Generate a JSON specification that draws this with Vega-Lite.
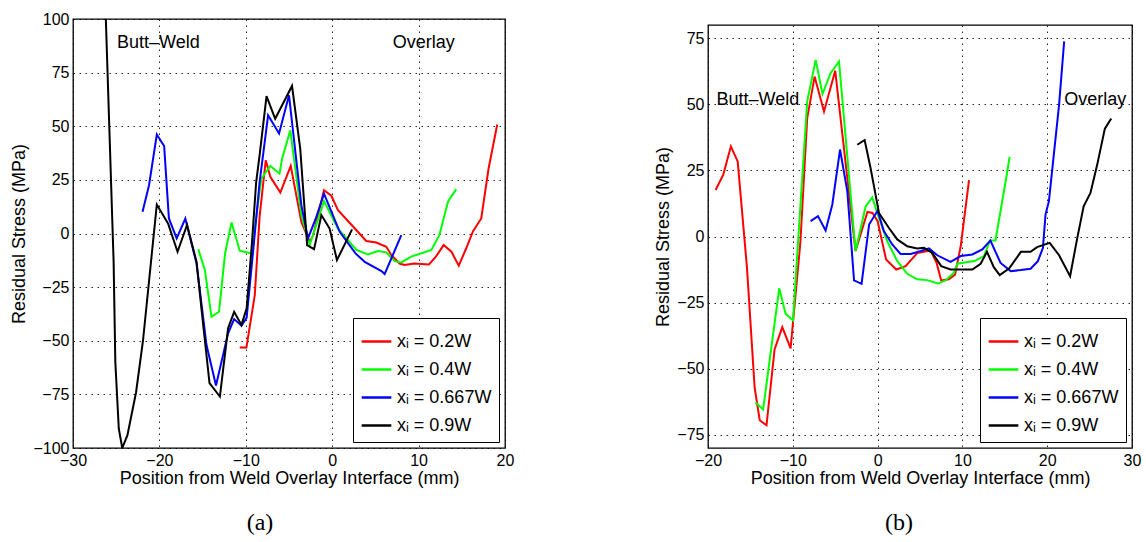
{
"$schema": "https://vega.github.io/schema/vega-lite/v6.json",
"background": "white",
"padding": {"left": 10, "top": 10, "right": 5, "bottom": 5},
"datasets": {
"a": [
{"s":"0.2W","x":-10.7,"y":-53.2},{"s":"0.2W","x":-9.93,"y":-53.2},{"s":"0.2W","x":-8.96,"y":-28.7},{"s":"0.2W","x":-8.4,"y":8},{"s":"0.2W","x":-7.69,"y":34.2},{"s":"0.2W","x":-7.16,"y":26.4},{"s":"0.2W","x":-6.0,"y":19.1},{"s":"0.2W","x":-4.8,"y":31.5},{"s":"0.2W","x":-3.57,"y":5.4},{"s":"0.2W","x":-2.6,"y":-3.9},{"s":"0.2W","x":-2.2,"y":-0.8},{"s":"0.2W","x":-0.95,"y":20.2},{"s":"0.2W","x":-0.1,"y":17.6},{"s":"0.2W","x":0.67,"y":10.9},{"s":"0.2W","x":2.2,"y":4.2},{"s":"0.2W","x":3.94,"y":-3.5},{"s":"0.2W","x":5.1,"y":-4.2},{"s":"0.2W","x":6.26,"y":-6.2},{"s":"0.2W","x":6.84,"y":-10},{"s":"0.2W","x":7.8,"y":-14},{"s":"0.2W","x":8.38,"y":-14.7},{"s":"0.2W","x":9.5,"y":-14},{"s":"0.2W","x":11.2,"y":-14.4},{"s":"0.2W","x":12.0,"y":-10.8},{"s":"0.2W","x":12.9,"y":-5.4},{"s":"0.2W","x":13.8,"y":-8.5},{"s":"0.2W","x":14.65,"y":-15},{"s":"0.2W","x":15.5,"y":-7},{"s":"0.2W","x":16.3,"y":1.1},{"s":"0.2W","x":17.25,"y":7},{"s":"0.2W","x":18.1,"y":30.3},{"s":"0.2W","x":19.1,"y":50.8},
{"s":"0.4W","x":-15.5,"y":-7.3},{"s":"0.4W","x":-14.74,"y":-17},{"s":"0.4W","x":-13.97,"y":-38.8},{"s":"0.4W","x":-13.1,"y":-36.5},{"s":"0.4W","x":-12.4,"y":-9.3},{"s":"0.4W","x":-11.65,"y":5.1},{"s":"0.4W","x":-10.7,"y":-8},{"s":"0.4W","x":-9.35,"y":-9.3},{"s":"0.4W","x":-8.2,"y":25.6},{"s":"0.4W","x":-7.16,"y":31.5},{"s":"0.4W","x":-6.1,"y":27.9},{"s":"0.4W","x":-5.8,"y":34.9},{"s":"0.4W","x":-4.85,"y":48.1},{"s":"0.4W","x":-3.57,"y":8.6},{"s":"0.4W","x":-2.6,"y":-5.4},{"s":"0.4W","x":-0.95,"y":15.1},{"s":"0.4W","x":0.67,"y":2.3},{"s":"0.4W","x":2.8,"y":-7.7},{"s":"0.4W","x":4.14,"y":-9.8},{"s":"0.4W","x":5.3,"y":-8.2},{"s":"0.4W","x":6.26,"y":-8.8},{"s":"0.4W","x":7.23,"y":-12.9},{"s":"0.4W","x":8.0,"y":-13.5},{"s":"0.4W","x":9.15,"y":-10.8},{"s":"0.4W","x":11.47,"y":-7.7},{"s":"0.4W","x":12.4,"y":-0.8},{"s":"0.4W","x":13.4,"y":14.8},{"s":"0.4W","x":14.35,"y":20.7},
{"s":"0.667W","x":-21.95,"y":10.1},{"s":"0.667W","x":-21.2,"y":22.5},{"s":"0.667W","x":-20.3,"y":46.1},{"s":"0.667W","x":-19.45,"y":40.8},{"s":"0.667W","x":-18.9,"y":7},{"s":"0.667W","x":-18.0,"y":-2.3},{"s":"0.667W","x":-17.0,"y":7},{"s":"0.667W","x":-15.7,"y":-14},{"s":"0.667W","x":-14.55,"y":-52},{"s":"0.667W","x":-13.45,"y":-70.9},{"s":"0.667W","x":-12.05,"y":-46.5},{"s":"0.667W","x":-11.35,"y":-39.9},{"s":"0.667W","x":-10.5,"y":-43},{"s":"0.667W","x":-9.9,"y":-39.2},{"s":"0.667W","x":-9.1,"y":-6},{"s":"0.667W","x":-8.4,"y":24},{"s":"0.667W","x":-7.42,"y":55.1},{"s":"0.667W","x":-6.15,"y":46.6},{"s":"0.667W","x":-5.0,"y":64.4},{"s":"0.667W","x":-3.57,"y":13.2},{"s":"0.667W","x":-2.8,"y":-2.3},{"s":"0.667W","x":-1.9,"y":7},{"s":"0.667W","x":-0.95,"y":18.6},{"s":"0.667W","x":0.87,"y":0.8},{"s":"0.667W","x":2.7,"y":-9.3},{"s":"0.667W","x":3.76,"y":-13.2},{"s":"0.667W","x":5.7,"y":-17.5},{"s":"0.667W","x":6.07,"y":-18.9},{"s":"0.667W","x":8.0,"y":-0.8},
{"s":"0.9W","x":-26.2,"y":100},{"s":"0.9W","x":-25.3,"y":-13},{"s":"0.9W","x":-25.1,"y":-60},{"s":"0.9W","x":-24.7,"y":-91},{"s":"0.9W","x":-24.3,"y":-100},{"s":"0.9W","x":-23.7,"y":-94},{"s":"0.9W","x":-22.7,"y":-74},{"s":"0.9W","x":-21.9,"y":-50},{"s":"0.9W","x":-20.3,"y":13.5},{"s":"0.9W","x":-19,"y":4.7},{"s":"0.9W","x":-17.9,"y":-8.5},{"s":"0.9W","x":-16.8,"y":4},{"s":"0.9W","x":-15.7,"y":-13.2},{"s":"0.9W","x":-15,"y":-40},{"s":"0.9W","x":-14.2,"y":-69.8},{"s":"0.9W","x":-13,"y":-76},{"s":"0.9W","x":-12.05,"y":-44.2},{"s":"0.9W","x":-11.35,"y":-36.5},{"s":"0.9W","x":-10.5,"y":-42.6},{"s":"0.9W","x":-9.9,"y":-34.9},{"s":"0.9W","x":-9.3,"y":-5},{"s":"0.9W","x":-8.8,"y":24},{"s":"0.9W","x":-8.4,"y":36.5},{"s":"0.9W","x":-7.6,"y":64},{"s":"0.9W","x":-6.6,"y":53.5},{"s":"0.9W","x":-4.65,"y":68.8},{"s":"0.9W","x":-3.7,"y":39.6},{"s":"0.9W","x":-2.9,"y":-5.4},{"s":"0.9W","x":-2.1,"y":-7.3},{"s":"0.9W","x":-1.25,"y":8.6},{"s":"0.9W","x":-0.3,"y":2.3},{"s":"0.9W","x":0.55,"y":-12.4},{"s":"0.9W","x":2.3,"y":1.9}
],
"b": [
{"s":"0.2W","x":-19.1,"y":17.6},{"s":"0.2W","x":-18.2,"y":23.4},{"s":"0.2W","x":-17.3,"y":34.1},{"s":"0.2W","x":-16.5,"y":28.4},{"s":"0.2W","x":-15.4,"y":-11.9},{"s":"0.2W","x":-14.5,"y":-57.2},{"s":"0.2W","x":-13.9,"y":-69.5},{"s":"0.2W","x":-13.1,"y":-71.4},{"s":"0.2W","x":-12.15,"y":-42.7},{"s":"0.2W","x":-11.24,"y":-34.3},{"s":"0.2W","x":-10.26,"y":-42.3},{"s":"0.2W","x":-9.1,"y":-2},{"s":"0.2W","x":-8.3,"y":44.8},{"s":"0.2W","x":-7.43,"y":60.5},{"s":"0.2W","x":-6.32,"y":47.3},{"s":"0.2W","x":-5.0,"y":62.7},{"s":"0.2W","x":-2.6,"y":-5.5},{"s":"0.2W","x":-1.2,"y":9.3},{"s":"0.2W","x":-0.6,"y":8.9},{"s":"0.2W","x":0,"y":5.8},{"s":"0.2W","x":1.0,"y":-8.7},{"s":"0.2W","x":2.2,"y":-12.5},{"s":"0.2W","x":3.3,"y":-11.2},{"s":"0.2W","x":4.7,"y":-6.2},{"s":"0.2W","x":6.25,"y":-5.3},{"s":"0.2W","x":6.96,"y":-10},{"s":"0.2W","x":7.5,"y":-16.6},{"s":"0.2W","x":8.4,"y":-16.2},{"s":"0.2W","x":9.13,"y":-14.4},{"s":"0.2W","x":9.8,"y":-3.7},{"s":"0.2W","x":10.78,"y":21.3},
{"s":"0.4W","x":-14.4,"y":-62.8},{"s":"0.4W","x":-13.5,"y":-65.4},{"s":"0.4W","x":-11.6,"y":-19.6},{"s":"0.4W","x":-10.85,"y":-29.2},{"s":"0.4W","x":-9.98,"y":-31.7},{"s":"0.4W","x":-8.3,"y":51.1},{"s":"0.4W","x":-7.3,"y":66.8},{"s":"0.4W","x":-6.5,"y":53.9},{"s":"0.4W","x":-5.54,"y":61.8},{"s":"0.4W","x":-4.55,"y":66.2},{"s":"0.4W","x":-2.6,"y":-5.5},{"s":"0.4W","x":-1.41,"y":11.4},{"s":"0.4W","x":-0.63,"y":14.8},{"s":"0.4W","x":0.16,"y":7},{"s":"0.4W","x":1.14,"y":-1.8},{"s":"0.4W","x":2.32,"y":-9.3},{"s":"0.4W","x":3.5,"y":-14.1},{"s":"0.4W","x":4.67,"y":-16.2},{"s":"0.4W","x":5.85,"y":-16.5},{"s":"0.4W","x":7.1,"y":-17.8},{"s":"0.4W","x":8.0,"y":-16.6},{"s":"0.4W","x":9.0,"y":-13.7},{"s":"0.4W","x":9.4,"y":-10.3},{"s":"0.4W","x":11.4,"y":-9.3},{"s":"0.4W","x":12.55,"y":-7.4},{"s":"0.4W","x":13.25,"y":-1.5},{"s":"0.4W","x":13.9,"y":-1.5},{"s":"0.4W","x":15.1,"y":20.9},{"s":"0.4W","x":15.57,"y":30.1},
{"s":"0.667W","x":-7.9,"y":5.8},{"s":"0.667W","x":-7.03,"y":7.7},{"s":"0.667W","x":-6.13,"y":2.3},{"s":"0.667W","x":-5.34,"y":12.1},{"s":"0.667W","x":-4.43,"y":32.9},{"s":"0.667W","x":-3.57,"y":17.1},{"s":"0.667W","x":-2.78,"y":-16.6},{"s":"0.667W","x":-1.89,"y":-17.9},{"s":"0.667W","x":-1.0,"y":4.5},{"s":"0.667W","x":0,"y":9.8},{"s":"0.667W","x":0.75,"y":2},{"s":"0.667W","x":1.73,"y":-3},{"s":"0.667W","x":2.7,"y":-6.6},{"s":"0.667W","x":3.9,"y":-6.6},{"s":"0.667W","x":5.1,"y":-5.5},{"s":"0.667W","x":6.06,"y":-4.5},{"s":"0.667W","x":7.04,"y":-7.1},{"s":"0.667W","x":8.6,"y":-9.6},{"s":"0.667W","x":9.8,"y":-7.4},{"s":"0.667W","x":11.17,"y":-6.8},{"s":"0.667W","x":12.35,"y":-4.9},{"s":"0.667W","x":13.3,"y":-1.5},{"s":"0.667W","x":14.5,"y":-10},{"s":"0.667W","x":15.7,"y":-13.1},{"s":"0.667W","x":16.9,"y":-12.7},{"s":"0.667W","x":18.04,"y":-12.2},{"s":"0.667W","x":18.9,"y":-9.3},{"s":"0.667W","x":19.5,"y":-4.3},{"s":"0.667W","x":19.8,"y":8.3},{"s":"0.667W","x":20.2,"y":13.3},{"s":"0.667W","x":21.4,"y":49.8},{"s":"0.667W","x":22.0,"y":73.8},
{"s":"0.9W","x":-2.4,"y":34.7},{"s":"0.9W","x":-1.53,"y":36.5},{"s":"0.9W","x":-0.83,"y":25.9},{"s":"0.9W","x":0.16,"y":8.9},{"s":"0.9W","x":1.34,"y":3.2},{"s":"0.9W","x":2.32,"y":-1.1},{"s":"0.9W","x":3.5,"y":-3.7},{"s":"0.9W","x":4.67,"y":-4.5},{"s":"0.9W","x":5.47,"y":-4.3},{"s":"0.9W","x":6.45,"y":-6.2},{"s":"0.9W","x":7.5,"y":-11.2},{"s":"0.9W","x":8.6,"y":-12.5},{"s":"0.9W","x":9.8,"y":-12.5},{"s":"0.9W","x":11.17,"y":-12.5},{"s":"0.9W","x":12.15,"y":-10.3},{"s":"0.9W","x":12.9,"y":-5.8},{"s":"0.9W","x":13.7,"y":-11.6},{"s":"0.9W","x":14.4,"y":-14.6},{"s":"0.9W","x":15.5,"y":-12.1},{"s":"0.9W","x":16.9,"y":-5.8},{"s":"0.9W","x":18.04,"y":-5.8},{"s":"0.9W","x":18.8,"y":-4.0},{"s":"0.9W","x":20.3,"y":-2.4},{"s":"0.9W","x":21.4,"y":-7.1},{"s":"0.9W","x":22.7,"y":-15},{"s":"0.9W","x":23.55,"y":-0.5},{"s":"0.9W","x":24.3,"y":11.4},{"s":"0.9W","x":25.1,"y":16.5},{"s":"0.9W","x":25.9,"y":27.2},{"s":"0.9W","x":26.8,"y":40.8},{"s":"0.9W","x":27.55,"y":44.6}
],
"la": [{"x":-24.9,"y":89,"t":"Butt–Weld"},{"x":7.0,"y":89,"t":"Overlay"}],
"lb": [{"x":-19.0,"y":51.6,"t":"Butt–Weld"},{"x":22.0,"y":51.6,"t":"Overlay"}]
},
"config": {
"font": "Liberation Sans",
"view": {"stroke": "black", "strokeWidth": 1.3},
"axis": {"grid": true, "gridColor": "black", "gridDash": [1.5, 4.5], "gridOpacity": 0.85, "gridWidth": 1, "domain": false, "ticks": false, "labelFontSize": 16, "labelColor": "black", "titleFontSize": 18, "titleFontWeight": "normal", "titleColor": "black", "labelPadding": 4, "labelFlush": false},
"axisX": {"titlePadding": 1},
"legend": {"orient": "bottom-right", "offset": 6, "strokeColor": "black", "fillColor": "white", "padding": 7, "symbolType": "stroke", "symbolSize": 880, "symbolStrokeWidth": 2.5, "labelFontSize": 18, "labelColor": "black", "rowPadding": 2, "labelOffset": 4, "title": null},
"title": {"font": "Liberation Serif", "fontSize": 24, "fontWeight": "normal", "color": "black"}
},
"spacing": 139,
"resolve": {"scale": {"color": "independent"}, "legend": {"color": "independent"}},
"hconcat": [
{
"width": 432, "height": 429,
"title": {"text": "(a)", "orient": "bottom", "dx": -29, "offset": 24},
"layer": [
{"data": {"name": "a"}, "mark": {"type": "line", "strokeWidth": 2, "clip": true},
"encoding": {
"x": {"field": "x", "type": "quantitative", "scale": {"domain": [-30, 20], "nice": false}, "axis": {"values": [-30, -20, -10, 0, 10, 20], "title": "Position from Weld Overlay Interface (mm)"}},
"y": {"field": "y", "type": "quantitative", "scale": {"domain": [-100, 100], "nice": false}, "axis": {"values": [-100, -75, -50, -25, 0, 25, 50, 75, 100], "title": "Residual Stress (MPa)"}},
"color": {"field": "s", "type": "nominal", "scale": {"domain": ["0.2W", "0.4W", "0.667W", "0.9W"], "range": ["#ff0000", "#00ff00", "#0000ff", "#000000"]}, "legend": {"labelExpr": "'xᵢ = ' + datum.label"}}
}},
{"data": {"name": "la"}, "mark": {"type": "text", "align": "left", "baseline": "middle", "fontSize": 18, "color": "black"},
"encoding": {"x": {"field": "x", "type": "quantitative"}, "y": {"field": "y", "type": "quantitative"}, "text": {"field": "t"}}}
]
},
{
"spacing": 4,
"resolve": {"scale": {"color": "independent"}, "legend": {"color": "independent"}},
"vconcat": [
{"width": 424, "height": 1, "view": {"stroke": null}, "data": {"values": []}, "mark": {"type": "point", "opacity": 0}},
{
"width": 424, "height": 423,
"title": {"text": "(b)", "orient": "bottom", "dx": -21, "offset": 24},
"layer": [
{"data": {"name": "b"}, "mark": {"type": "line", "strokeWidth": 2, "clip": true},
"encoding": {
"x": {"field": "x", "type": "quantitative", "scale": {"domain": [-20, 30], "nice": false}, "axis": {"values": [-20, -10, 0, 10, 20, 30], "title": "Position from Weld Overlay Interface (mm)"}},
"y": {"field": "y", "type": "quantitative", "scale": {"domain": [-80, 80], "nice": false}, "axis": {"values": [-75, -50, -25, 0, 25, 50, 75], "title": "Residual Stress (MPa)"}},
"color": {"field": "s", "type": "nominal", "scale": {"domain": ["0.2W", "0.4W", "0.667W", "0.9W"], "range": ["#ff0000", "#00ff00", "#0000ff", "#000000"]}, "legend": {"labelExpr": "'xᵢ = ' + datum.label"}}
}},
{"data": {"name": "lb"}, "mark": {"type": "text", "align": "left", "baseline": "middle", "fontSize": 18, "color": "black"},
"encoding": {"x": {"field": "x", "type": "quantitative"}, "y": {"field": "y", "type": "quantitative"}, "text": {"field": "t"}}}
]
}
]
}
]
}
